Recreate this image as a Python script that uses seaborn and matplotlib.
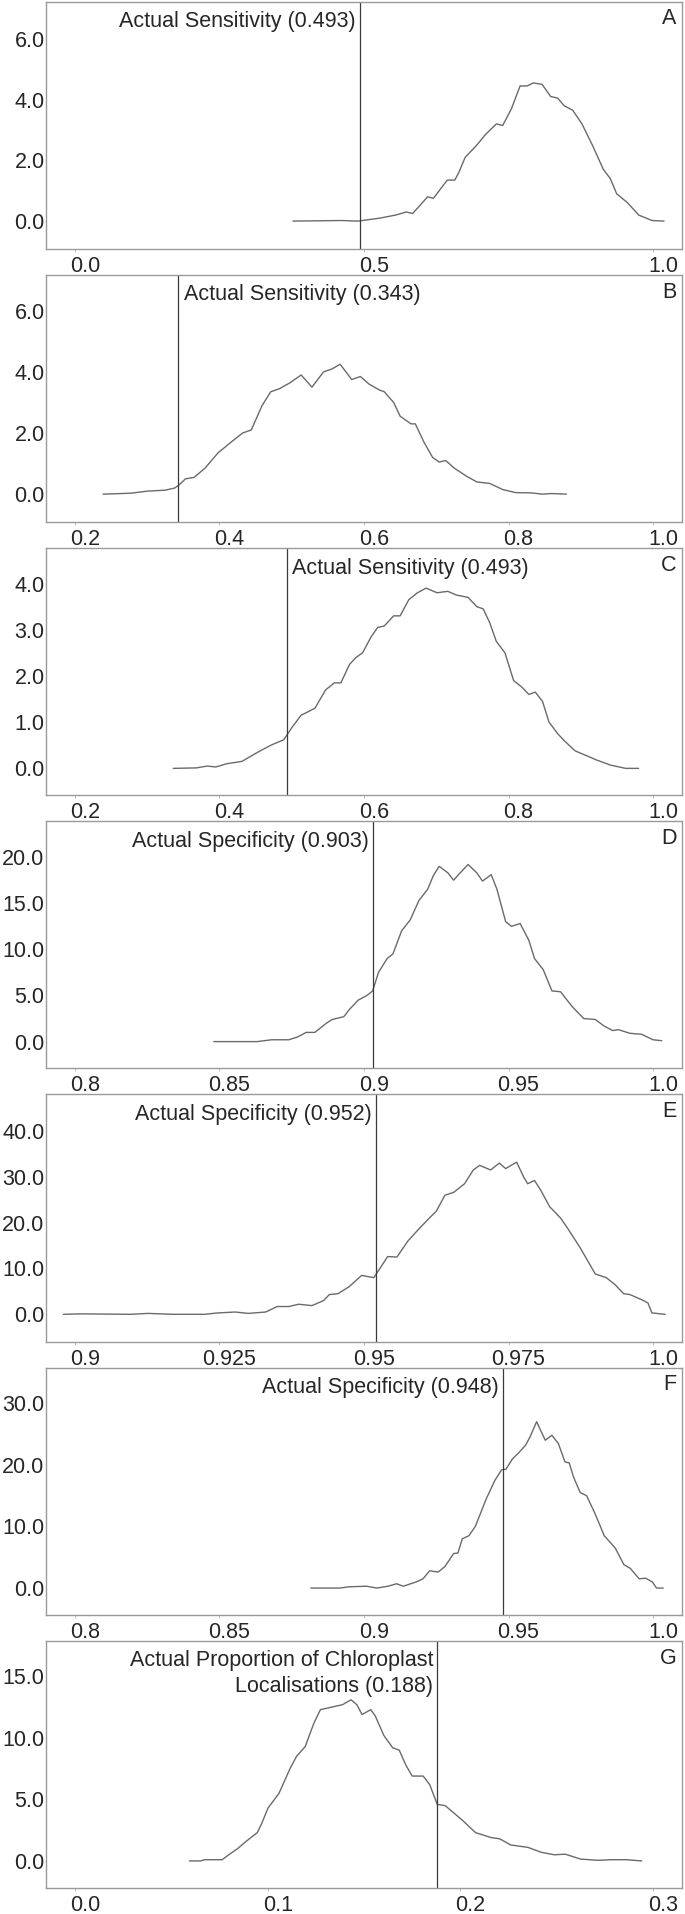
import matplotlib
matplotlib.use('Agg')
import matplotlib.pyplot as plt
import matplotlib.transforms as mtransforms
import seaborn as sns
import pandas as pd

# --- data (density curves of bootstrap estimates) ---
a_x = [0.377, 0.42, 0.46, 0.49, 0.528, 0.555, 0.573, 0.584, 0.596, 0.61, 0.62, 0.634, 0.644, 0.657,
       0.664, 0.675, 0.695, 0.71, 0.729, 0.74, 0.755, 0.77, 0.782, 0.793, 0.808, 0.823, 0.835, 0.846,
       0.861, 0.877, 0.895, 0.914, 0.926, 0.937, 0.956, 0.975, 0.998, 1.019]
a_y = [0.0, 0.01, 0.02, 0.0, 0.1, 0.2, 0.3, 0.25, 0.5, 0.8, 0.75, 1.1, 1.35, 1.35,
       1.6, 2.1, 2.5, 2.85, 3.2, 3.15, 3.7, 4.45, 4.45, 4.55, 4.5, 4.1, 4.05, 3.8,
       3.65, 3.2, 2.5, 1.7, 1.4, 0.9, 0.6, 0.2, 0.02, 0.0]

b_x = [0.239, 0.277, 0.301, 0.325, 0.338, 0.344, 0.353, 0.365, 0.38, 0.398, 0.416, 0.432, 0.444,
       0.459, 0.471, 0.483, 0.498, 0.513, 0.528, 0.544, 0.556, 0.567, 0.583, 0.595, 0.607, 0.622,
       0.628, 0.641, 0.65, 0.665, 0.671, 0.683, 0.695, 0.704, 0.713, 0.725, 0.741, 0.756, 0.774,
       0.792, 0.81, 0.832, 0.847, 0.859, 0.88]
b_y = [0.0, 0.03, 0.1, 0.13, 0.2, 0.3, 0.5, 0.55, 0.85, 1.35, 1.7, 2.0, 2.1,
       2.9, 3.35, 3.45, 3.65, 3.9, 3.5, 4.0, 4.1, 4.25, 3.75, 3.85, 3.6, 3.4,
       3.35, 3.0, 2.55, 2.3, 2.3, 1.7, 1.2, 1.05, 1.1, 0.85, 0.6, 0.4, 0.35,
       0.15, 0.05, 0.04, 0.0, 0.02, 0.0]

c_x = [0.336, 0.368, 0.383, 0.395, 0.41, 0.431, 0.453, 0.471, 0.489, 0.501, 0.513, 0.522, 0.532,
       0.547, 0.559, 0.568, 0.58, 0.589, 0.598, 0.61, 0.619, 0.628, 0.641, 0.65, 0.662, 0.674,
       0.686, 0.701, 0.716, 0.728, 0.744, 0.756, 0.765, 0.774, 0.783, 0.795, 0.807, 0.819, 0.828,
       0.837, 0.847, 0.856, 0.868, 0.877, 0.892, 0.907, 0.922, 0.941, 0.962, 0.98]
c_y = [0.0, 0.01, 0.05, 0.03, 0.1, 0.15, 0.35, 0.5, 0.62, 0.9, 1.15, 1.22, 1.3,
       1.7, 1.85, 1.85, 2.25, 2.4, 2.5, 2.85, 3.05, 3.08, 3.3, 3.3, 3.65, 3.8,
       3.9, 3.8, 3.83, 3.75, 3.7, 3.5, 3.45, 3.15, 2.75, 2.5, 1.9, 1.75, 1.6,
       1.65, 1.45, 1.0, 0.75, 0.6, 0.38, 0.28, 0.18, 0.07, 0.0, 0.0]

d_x = [0.848, 0.858, 0.863, 0.868, 0.874, 0.877, 0.88, 0.883, 0.887, 0.889, 0.893, 0.895, 0.898,
       0.901, 0.903, 0.905, 0.908, 0.91, 0.913, 0.916, 0.919, 0.922, 0.924, 0.926, 0.929, 0.931,
       0.933, 0.936, 0.939, 0.941, 0.944, 0.946, 0.949, 0.951, 0.954, 0.957, 0.959, 0.962, 0.965,
       0.968, 0.972, 0.976, 0.98, 0.983, 0.986, 0.988, 0.992, 0.996, 1.0, 1.003]
d_y = [0.0, 0.0, 0.0, 0.2, 0.2, 0.5, 1.0, 1.0, 2.0, 2.4, 2.7, 3.5, 4.5,
       5.0, 5.5, 7.5, 9.0, 9.5, 12.0, 13.2, 15.3, 16.5, 18.0, 19.0, 18.3, 17.5,
       18.2, 19.2, 18.3, 17.4, 18.1, 16.5, 13.0, 12.5, 12.8, 11.0, 9.0, 7.8, 5.5,
       5.4, 3.8, 2.5, 2.4, 1.7, 1.2, 1.3, 0.9, 0.8, 0.2, 0.1]

e_x = [0.898, 0.901, 0.9096, 0.9126, 0.917, 0.9224, 0.9247, 0.9277, 0.93, 0.933, 0.935, 0.937,
       0.9387, 0.941, 0.943, 0.944, 0.9455, 0.9474, 0.9496, 0.9508, 0.9517, 0.953, 0.9541, 0.9557,
       0.9576, 0.9594, 0.9613, 0.9625, 0.964, 0.9655, 0.9674, 0.9689, 0.97, 0.9719, 0.9734, 0.9745,
       0.9764, 0.9776, 0.9783, 0.9795, 0.9806, 0.9821, 0.984, 0.9851, 0.9874, 0.99, 0.9919, 0.9934,
       0.9949, 0.996, 0.998, 0.9991, 0.9998, 1.0021]
e_y = [0.0, 0.1, 0.0, 0.2, 0.0, 0.0, 0.3, 0.5, 0.2, 0.5, 1.7, 1.7,
       2.2, 1.9, 3.0, 4.3, 4.5, 6.0, 8.5, 8.2, 8.0, 10.5, 12.6, 12.5,
       16.0, 18.5, 21.0, 22.5, 26.0, 26.6, 28.5, 31.5, 32.5, 31.5, 33.0, 31.8,
       33.2, 30.0, 28.5, 29.2, 27.0, 23.5, 21.0, 19.0, 14.5, 8.8, 8.0, 6.5,
       4.5, 4.3, 3.2, 2.5, 0.3, 0.0]

f_x = [0.8816, 0.8917, 0.8947, 0.9008, 0.9045, 0.9083, 0.9113, 0.9136, 0.9181, 0.9204, 0.9227,
       0.9257, 0.928, 0.931, 0.9325, 0.934, 0.9363, 0.9385, 0.9423, 0.9453, 0.9476, 0.9491, 0.9514,
       0.9536, 0.9559, 0.9574, 0.9597, 0.9612, 0.9627, 0.965, 0.9672, 0.9695, 0.971, 0.9725, 0.9748,
       0.977, 0.98, 0.9831, 0.9869, 0.9899, 0.9921, 0.9952, 0.9974, 0.9997, 1.0012, 1.0035]
f_y = [0.0, 0.0, 0.2, 0.3, 0.0, 0.3, 0.7, 0.3, 1.0, 1.5, 2.8,
       2.6, 3.5, 5.6, 5.7, 8.0, 8.5, 10.0, 14.5, 17.5, 19.2, 19.3, 21.0,
       22.0, 23.2, 24.5, 27.0, 25.5, 24.0, 24.8, 23.5, 20.5, 20.3, 18.0, 15.5,
       15.0, 12.0, 8.5, 6.5, 3.8, 3.2, 1.5, 1.6, 1.0, 0.0, 0.0]

g_x = [0.0594, 0.0651, 0.0673, 0.0764, 0.0798, 0.0844, 0.0889, 0.0946, 0.0968, 0.1002, 0.1059,
       0.1116, 0.115, 0.1195, 0.124, 0.1274, 0.1331, 0.1388, 0.1433, 0.1463, 0.149, 0.1535, 0.1558,
       0.1603, 0.1649, 0.1683, 0.1717, 0.175, 0.1807, 0.1841, 0.188, 0.1921, 0.1966, 0.2011, 0.2079,
       0.2159, 0.2204, 0.2261, 0.2351, 0.242, 0.2488, 0.2544, 0.2624, 0.2714, 0.2782, 0.2862, 0.2941]
g_y = [0.0, 0.0, 0.1, 0.1, 0.5, 1.0, 1.6, 2.3, 3.0, 4.3, 5.5,
       7.5, 8.5, 9.3, 11.2, 12.3, 12.5, 12.7, 13.1, 12.7, 11.9, 12.3, 11.8,
       10.2, 9.2, 9.0, 7.8, 6.9, 6.9, 6.2, 4.6, 4.5, 3.9, 3.3, 2.3,
       1.9, 1.8, 1.3, 1.1, 0.7, 0.5, 0.55, 0.15, 0.05, 0.1, 0.1, 0.0]

panel_letters = ['A', 'B', 'C', 'D', 'E', 'F', 'G']
actual_values = [0.493, 0.343, 0.493, 0.903, 0.952, 0.948, 0.188]
actual_labels = ['Actual Sensitivity (0.493)', 'Actual Sensitivity (0.343)',
                 'Actual Sensitivity (0.493)', 'Actual Specificity (0.903)',
                 'Actual Specificity (0.952)', 'Actual Specificity (0.948)',
                 'Actual Proportion of Chloroplast\nLocalisations (0.188)']
label_side = ['left', 'right', 'right', 'left', 'left', 'left', 'left']

xticks = [[0.0, 0.5, 1.0],
          [0.2, 0.4, 0.6, 0.8, 1.0],
          [0.2, 0.4, 0.6, 0.8, 1.0],
          [0.8, 0.85, 0.9, 0.95, 1.0],
          [0.9, 0.925, 0.95, 0.975, 1.0],
          [0.8, 0.85, 0.9, 0.95, 1.0],
          [0.0, 0.1, 0.2, 0.3]]
xticklabels = [['0.0', '0.5', '1.0'],
               ['0.2', '0.4', '0.6', '0.8', '1.0'],
               ['0.2', '0.4', '0.6', '0.8', '1.0'],
               ['0.8', '0.85', '0.9', '0.95', '1.0'],
               ['0.9', '0.925', '0.95', '0.975', '1.0'],
               ['0.8', '0.85', '0.9', '0.95', '1.0'],
               ['0.0', '0.1', '0.2', '0.3']]
yticks = [[0, 2, 4, 6], [0, 2, 4, 6], [0, 1, 2, 3, 4], [0, 5, 10, 15, 20],
          [0, 10, 20, 30, 40], [0, 10, 20, 30], [0, 5, 10, 15]]
ylims = [(-0.91, 7.23), (-0.91, 7.18), (-0.58, 4.77), (-2.9, 23.9),
         (-5.95, 48.0), (-4.34, 35.8), (-2.2, 17.9)]

curves = [(a_x, a_y), (b_x, b_y), (c_x, c_y), (d_x, d_y), (e_x, e_y), (f_x, f_y), (g_x, g_y)]

# --- style ---
sns.set_style('white')
plt.rcParams['font.family'] = ['Liberation Sans', 'DejaVu Sans']

fig, axes = plt.subplots(7, 1, figsize=(6.85, 19.14), dpi=100)
fig.subplots_adjust(left=46 / 685, right=682 / 685, top=1 - 1.5 / 1914,
                    bottom=1 - 1888 / 1914, hspace=0.105)

# tick labels in the reference sit a little right of their ticks
label_shift = mtransforms.ScaledTranslation(10 / 100, 0, fig.dpi_scale_trans)

for i, ax in enumerate(axes):
    cx, cy = curves[i]
    df = pd.DataFrame({'x': cx, 'y': cy})
    sns.lineplot(data=df, x='x', y='y', ax=ax, color='#6a6a6a', linewidth=1.0,
                 sort=False, estimator=None)
    ax.axvline(actual_values[i], color='#3a3a3a', linewidth=0.9)

    ticks = xticks[i]
    pad = (ticks[-1] - ticks[0]) * 0.05
    ax.set_xlim(ticks[0] - pad, ticks[-1] + pad)
    ax.set_ylim(*ylims[i])
    ax.set_xticks(ticks)
    ax.set_xticklabels(xticklabels[i])
    ax.set_yticks(yticks[i])
    ax.set_yticklabels([f'{v:.1f}' for v in yticks[i]])
    ax.set_xlabel('')
    ax.set_ylabel('')
    ax.tick_params(axis='x', labelsize=15.5, length=2, width=0.6, color='#b0b0b0', pad=3,
                   bottom=True)
    ax.tick_params(axis='y', labelsize=15.5, length=0, pad=1)
    for lab in ax.get_xticklabels():
        lab.set_transform(lab.get_transform() + label_shift)
    for sp in ax.spines.values():
        sp.set_color('#9a9a9a')
        sp.set_linewidth(1.0)

    trans = mtransforms.blended_transform_factory(ax.transData, ax.transAxes)
    if label_side[i] == 'left':
        ax.annotate(actual_labels[i], xy=(actual_values[i], 1), xycoords=trans,
                    xytext=(-3, -7), textcoords='offset points', ha='right', va='top',
                    fontsize=15.5, linespacing=1.3)
    else:
        ax.annotate(actual_labels[i], xy=(actual_values[i], 1), xycoords=trans,
                    xytext=(4, -7), textcoords='offset points', ha='left', va='top',
                    fontsize=15.5)
    ax.annotate(panel_letters[i], xy=(1, 1), xycoords='axes fraction', xytext=(-4, -5),
                textcoords='offset points', ha='right', va='top', fontsize=15.5)

fig.savefig('out.png', dpi=100)
